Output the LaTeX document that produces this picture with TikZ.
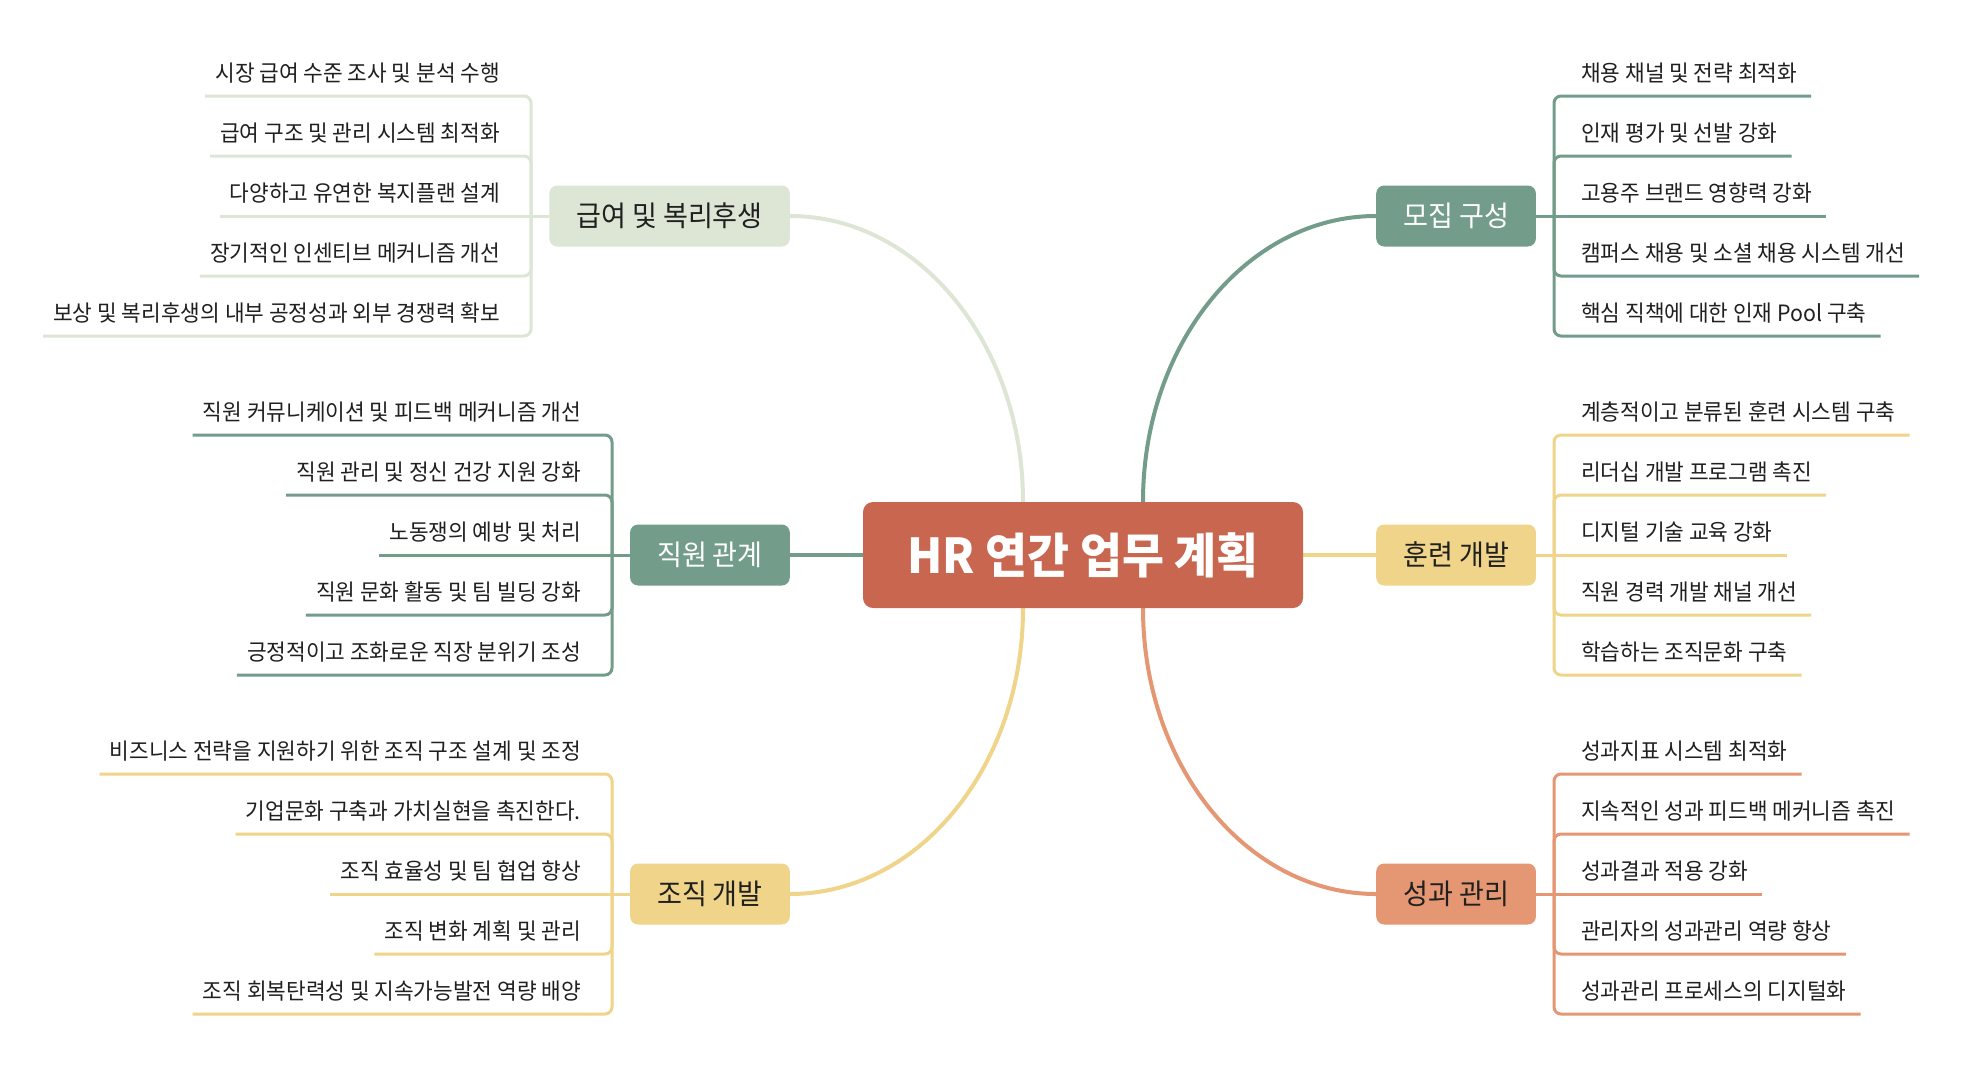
\documentclass[tikz,border=0pt]{standalone}
\usepackage{fontspec}
\newfontfamily\kr[FakeStretch=0.95]{Noto Sans CJK KR}
\usetikzlibrary{calc,backgrounds}
\definecolor{cen}{HTML}{C8664F}
\definecolor{tealc}{HTML}{739C8B}
\definecolor{yelc}{HTML}{EFD489}
\definecolor{orac}{HTML}{E49772}
\definecolor{lgrc}{HTML}{DDE6D5}
\definecolor{txtc}{HTML}{202020}
% right-side leaf: name, colour, bracket x, centre y, line y, text
\newcommand\lfR[6]{%
  \node[leaf,anchor=base west] (#1) at (#3+27,#5-15) {#6};
  \draw[ln=#2] (#3,#4) |- ($(#1.base east)+(14,15)$);}
% left-side leaf
\newcommand\lfL[6]{%
  \node[leaf,anchor=base east] (#1) at (#3-31,#5-15) {#6};
  \draw[ln=#2] (#3,#4) |- ($(#1.base west)+(-10,15)$);}
% middle leaves: name, colour, branch node, bracket x, y, text
\newcommand\lmR[6]{%
  \node[leaf,anchor=base west] (#1) at (#4+27,#5-15) {#6};
  \draw[ln=#2] (#3.east) -- ($(#1.base east)+(14,15)$);}
\newcommand\lmL[6]{%
  \node[leaf,anchor=base east] (#1) at (#4-31,#5-15) {#6};
  \draw[ln=#2] (#3.west) -- ($(#1.base west)+(-10,15)$);}
\begin{document}
\begin{tikzpicture}[x=1pt,y=-1pt,
  leaf/.style={inner sep=0pt, font=\kr\fontsize{22.5}{26}\selectfont, text=txtc},
  branch/.style={rounded corners=8pt, inner xsep=27pt, inner ysep=0pt,
    minimum height=61pt, font=\kr\fontsize{28.5}{32}\selectfont},
  ln/.style={draw=#1, line width=3pt, rounded corners=7pt},
  mainln/.style={draw=#1, line width=4pt}]
\useasboundingbox (0,0) rectangle (1965,1074);

% central node
\node[fill=cen, rounded corners=10pt, minimum width=440pt, minimum height=106pt,
  text=white, font=\kr\bfseries\fontsize{48}{52}\selectfont] (c) at (1083,555) {HR 연간 업무 계획};

% branch nodes
\node[branch, fill=lgrc, text=txtc, anchor=east] (g) at (790,216) {급여 및 복리후생};
\node[branch, fill=tealc, text=white, anchor=east] (r) at (790,555) {직원 관계};
\node[branch, fill=yelc, text=txtc, anchor=east] (o) at (790,894) {조직 개발};
\node[branch, fill=tealc, text=white, anchor=west] (m) at (1376,216) {모집 구성};
\node[branch, fill=yelc, text=txtc, anchor=west] (t) at (1376,555) {훈련 개발};
\node[branch, fill=orac, text=txtc, anchor=west] (p) at (1376,894) {성과 관리};

% main connectors
\begin{pgfonlayer}{background}
\fill[white] (0,0) rectangle (1965,1074);
\draw[mainln=tealc] ($(c.north)+(60,0)$) .. controls +(0,-158) and +(-129,0) .. (m.west);
\draw[mainln=lgrc] ($(c.north)+(-60,0)$) .. controls +(0,-158) and +(129,0) .. (g.east);
\draw[mainln=orac] ($(c.south)+(60,0)$) .. controls +(0,158) and +(-129,0) .. (p.west);
\draw[mainln=yelc] ($(c.south)+(-60,0)$) .. controls +(0,158) and +(129,0) .. (o.east);
\draw[mainln=tealc] (c.west) -- (r.east);
\draw[mainln=yelc] (c.east) -- (t.west);
\end{pgfonlayer}

% 급여 및 복리후생
\lfL{g1}{lgrc}{531}{216}{96}{시장 급여 수준 조사 및 분석 수행}
\lfL{g2}{lgrc}{531}{216}{156}{급여 구조 및 관리 시스템 최적화}
\lmL{g3}{lgrc}{g}{531}{216}{다양하고 유연한 복지플랜 설계}
\lfL{g4}{lgrc}{531}{216}{276}{장기적인 인센티브 메커니즘 개선}
\lfL{g5}{lgrc}{531}{216}{336}{보상 및 복리후생의 내부 공정성과 외부 경쟁력 확보}

% 직원 관계
\lfL{r1}{tealc}{612}{555}{435}{직원 커뮤니케이션 및 피드백 메커니즘 개선}
\lfL{r2}{tealc}{612}{555}{495}{직원 관리 및 정신 건강 지원 강화}
\lmL{r3}{tealc}{r}{612}{555}{노동쟁의 예방 및 처리}
\lfL{r4}{tealc}{612}{555}{615}{직원 문화 활동 및 팀 빌딩 강화}
\lfL{r5}{tealc}{612}{555}{675}{긍정적이고 조화로운 직장 분위기 조성}

% 조직 개발
\lfL{o1}{yelc}{612}{894}{774}{비즈니스 전략을 지원하기 위한 조직 구조 설계 및 조정}
\lfL{o2}{yelc}{612}{894}{834}{기업문화 구축과 가치실현을 촉진한다.}
\lmL{o3}{yelc}{o}{612}{894}{조직 효율성 및 팀 협업 향상}
\lfL{o4}{yelc}{612}{894}{954}{조직 변화 계획 및 관리}
\lfL{o5}{yelc}{612}{894}{1014}{조직 회복탄력성 및 지속가능발전 역량 배양}

% 모집 구성
\lfR{m1}{tealc}{1554}{216}{96}{채용 채널 및 전략 최적화}
\lfR{m2}{tealc}{1554}{216}{156}{인재 평가 및 선발 강화}
\lmR{m3}{tealc}{m}{1554}{216}{고용주 브랜드 영향력 강화}
\lfR{m4}{tealc}{1554}{216}{276}{캠퍼스 채용 및 소셜 채용 시스템 개선}
\lfR{m5}{tealc}{1554}{216}{336}{핵심 직책에 대한 인재 Pool 구축}

% 훈련 개발
\lfR{t1}{yelc}{1554}{555}{435}{계층적이고 분류된 훈련 시스템 구축}
\lfR{t2}{yelc}{1554}{555}{495}{리더십 개발 프로그램 촉진}
\lmR{t3}{yelc}{t}{1554}{555}{디지털 기술 교육 강화}
\lfR{t4}{yelc}{1554}{555}{615}{직원 경력 개발 채널 개선}
\lfR{t5}{yelc}{1554}{555}{675}{학습하는 조직문화 구축}

% 성과 관리
\lfR{p1}{orac}{1554}{894}{774}{성과지표 시스템 최적화}
\lfR{p2}{orac}{1554}{894}{834}{지속적인 성과 피드백 메커니즘 촉진}
\lmR{p3}{orac}{p}{1554}{894}{성과결과 적용 강화}
\lfR{p4}{orac}{1554}{894}{954}{관리자의 성과관리 역량 향상}
\lfR{p5}{orac}{1554}{894}{1014}{성과관리 프로세스의 디지털화}
\end{tikzpicture}
\end{document}
